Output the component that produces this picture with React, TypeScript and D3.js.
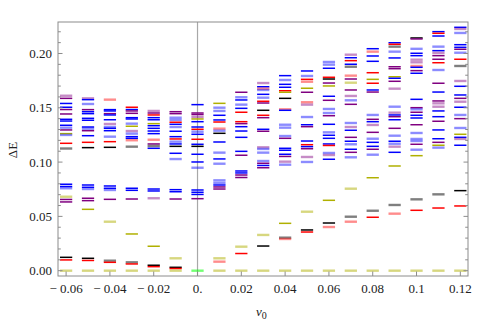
import React from "react";
import * as d3 from "d3";

// v0 values of the columns
const vValues = [-0.06, -0.05, -0.04, -0.03, -0.02, -0.01, 0, 0.01, 0.02, 0.03, 0.04, 0.05, 0.06, 0.07, 0.08, 0.09, 0.1, 0.11, 0.12];

type Lv = [number, string];
// energy levels per column: [ΔE, colour code]
const colM06: Lv[] = [[0.1611,"lp"],[0.1587,"p"],[0.1540,"b"],[0.1505,"b"],[0.1484,"p"],[0.1443,"p"],[0.1394,"b"],[0.1378,"b"],[0.1339,"b"],[0.1317,"lb"],[0.1296,"p"],[0.1262,"y"],[0.1250,"lb"],[0.1173,"r"],[0.1125,"g"],[0.0796,"b"],[0.0775,"b"],[0.0759,"lb"],[0.0681,"ly"],[0.0656,"p"],[0.0633,"p"],[0.0123,"k"],[0.0099,"r"],[0,"ly"]];
const colM05: Lv[] = [[0.1587,"lp"],[0.1575,"b"],[0.1535,"lb"],[0.1483,"p"],[0.1464,"b"],[0.1446,"b"],[0.1403,"b"],[0.1385,"b"],[0.1323,"b"],[0.1308,"lb"],[0.1289,"p"],[0.1243,"b"],[0.1182,"r"],[0.1133,"k"],[0.0789,"b"],[0.0768,"b"],[0.0752,"lb"],[0.0667,"p"],[0.0645,"p"],[0.0565,"y"],[0.0114,"k"],[0.0094,"r"],[0,"ly"]];
const colM04: Lv[] = [[0.1575,"lr"],[0.1483,"b"],[0.1471,"b"],[0.1446,"p"],[0.1434,"b"],[0.1390,"b"],[0.1351,"lp"],[0.1323,"lb"],[0.1311,"b"],[0.1289,"b"],[0.1234,"lb"],[0.1188,"r"],[0.1136,"k"],[0.0780,"b"],[0.0759,"b"],[0.0743,"lb"],[0.0657,"p"],[0.0451,"ly"],[0.0092,"g"],[0.0077,"r"],[0,"ly"]];
const colM03: Lv[] = [[0.1505,"r"],[0.1484,"b"],[0.1471,"p"],[0.1449,"p"],[0.1409,"b"],[0.1397,"b"],[0.1354,"lb"],[0.1330,"y"],[0.1286,"lp"],[0.1262,"lb"],[0.1234,"b"],[0.1219,"b"],[0.1201,"lr"],[0.1142,"g"],[0.0759,"b"],[0.0740,"b"],[0.0660,"p"],[0.0338,"y"],[0.0077,"g"],[0.0062,"r"],[0,"ly"]];
const colM02: Lv[] = [[0.1471,"lp"],[0.1452,"p"],[0.1434,"r"],[0.1409,"b"],[0.1390,"b"],[0.1354,"y"],[0.1335,"b"],[0.1311,"b"],[0.1286,"b"],[0.1262,"b"],[0.1206,"lr"],[0.1167,"p"],[0.1148,"g"],[0.1127,"b"],[0.0752,"b"],[0.0734,"b"],[0.0667,"lp"],[0.0225,"y"],[0.0050,"k"],[0.0037,"r"],[0,"ly"]];
const colM01: Lv[] = [[0.1464,"p"],[0.1446,"p"],[0.1409,"lb"],[0.1388,"lb"],[0.1367,"r"],[0.1348,"b"],[0.1323,"lb"],[0.1284,"b"],[0.1234,"b"],[0.1213,"r"],[0.1188,"lb"],[0.1167,"b"],[0.1145,"k"],[0.1081,"b"],[0.1028,"lb"],[0.0746,"b"],[0.0727,"b"],[0.0660,"p"],[0.0114,"ly"],[0.0031,"k"],[0.0020,"r"],[0,"ly"]];
const col000: Lv[] = [[0.1529,"b"],[0.1452,"p"],[0.1438,"p"],[0.1415,"lp"],[0.1397,"y"],[0.1372,"b"],[0.1323,"b"],[0.1302,"r"],[0.1280,"lb"],[0.1256,"b"],[0.1210,"r"],[0.1164,"b"],[0.1145,"k"],[0.1072,"b"],[0.1001,"b"],[0.0948,"lb"],[0.0743,"b"],[0.0722,"b"],[0.0702,"b"],[0.0663,"p"],[0,"gr"]];
const colP01: Lv[] = [[0.1541,"y"],[0.1501,"lb"],[0.1471,"lb"],[0.1431,"b"],[0.1388,"b"],[0.1369,"r"],[0.1308,"lr"],[0.1289,"lb"],[0.1265,"k"],[0.1185,"b"],[0.1087,"lb"],[0.1029,"b"],[0.0985,"lb"],[0.0832,"lb"],[0.0808,"lb"],[0.0789,"b"],[0.0771,"p"],[0.0752,"p"],[0.0114,"ly"],[0.0083,"lr"],[0,"ly"]];
const colP02: Lv[] = [[0.1643,"p"],[0.1597,"lb"],[0.1572,"b"],[0.1529,"lb"],[0.1495,"b"],[0.1459,"r"],[0.1372,"r"],[0.1354,"p"],[0.1326,"b"],[0.1286,"b"],[0.1228,"b"],[0.1099,"b"],[0.1063,"p"],[0.0918,"b"],[0.0900,"b"],[0.0881,"p"],[0.0858,"p"],[0.0221,"ly"],[0.0158,"r"],[0,"ly"]];
const colP03: Lv[] = [[0.1728,"lp"],[0.1694,"b"],[0.1676,"lr"],[0.1664,"lb"],[0.1624,"b"],[0.1593,"lb"],[0.1560,"r"],[0.1544,"p"],[0.1477,"k"],[0.1431,"r"],[0.1409,"p"],[0.1302,"b"],[0.1284,"p"],[0.1136,"lp"],[0.1121,"lb"],[0.1087,"lb"],[0.1010,"lb"],[0.0989,"p"],[0.0969,"b"],[0.0948,"p"],[0.0329,"ly"],[0.0227,"k"],[0,"ly"]];
const colP04: Lv[] = [[0.1796,"b"],[0.1756,"lb"],[0.1716,"b"],[0.1689,"b"],[0.1657,"r"],[0.1643,"y"],[0.1587,"k"],[0.1486,"lr"],[0.1477,"b"],[0.1344,"lb"],[0.1317,"lb"],[0.1240,"lb"],[0.1219,"p"],[0.1127,"b"],[0.1109,"b"],[0.1072,"b"],[0.1052,"p"],[0.1004,"lp"],[0.0976,"lb"],[0.0436,"y"],[0.0304,"g"],[0.0292,"lr"],[0,"ly"]];
const colP05: Lv[] = [[0.1839,"b"],[0.1793,"lb"],[0.1762,"r"],[0.1740,"lr"],[0.1680,"y"],[0.1643,"p"],[0.1551,"lr"],[0.1529,"lp"],[0.1415,"lb"],[0.1344,"b"],[0.1326,"p"],[0.1194,"b"],[0.1160,"r"],[0.1142,"b"],[0.1123,"p"],[0.1047,"lp"],[0.1001,"lb"],[0.0543,"ly"],[0.0375,"k"],[0.0356,"r"],[0,"ly"]];
const colP06: Lv[] = [[0.1922,"lb"],[0.1897,"lb"],[0.1864,"b"],[0.1781,"r"],[0.1765,"k"],[0.1728,"p"],[0.1701,"y"],[0.1606,"b"],[0.1569,"p"],[0.1489,"lb"],[0.1452,"lb"],[0.1427,"p"],[0.1348,"b"],[0.1274,"lb"],[0.1247,"b"],[0.1219,"b"],[0.1167,"b"],[0.1153,"r"],[0.1084,"lb"],[0.1065,"lp"],[0.1026,"b"],[0.0648,"y"],[0.0439,"k"],[0.0402,"lr"],[0,"ly"]];
const colP07: Lv[] = [[0.1989,"lp"],[0.1961,"b"],[0.1934,"r"],[0.1901,"b"],[0.1878,"g"],[0.1796,"lr"],[0.1765,"p"],[0.1731,"ly"],[0.1664,"p"],[0.1609,"lp"],[0.1569,"lb"],[0.1532,"p"],[0.1360,"lb"],[0.1323,"lp"],[0.1293,"b"],[0.1228,"p"],[0.1192,"b"],[0.1164,"lb"],[0.1118,"b"],[0.1090,"p"],[0.1044,"lb"],[0.0755,"ly"],[0.0497,"g"],[0.0451,"lr"],[0,"ly"]];
const colP08: Lv[] = [[0.2044,"b"],[0.2017,"lr"],[0.1977,"b"],[0.1928,"b"],[0.1823,"r"],[0.1762,"y"],[0.1726,"r"],[0.1664,"b"],[0.1645,"p"],[0.1434,"lb"],[0.1394,"p"],[0.1372,"b"],[0.1342,"lp"],[0.1274,"p"],[0.1215,"lb"],[0.1182,"b"],[0.1145,"b"],[0.1118,"p"],[0.1068,"lb"],[0.0856,"y"],[0.0552,"g"],[0.0492,"r"],[0,"ly"]];
const colP09: Lv[] = [[0.2099,"b"],[0.2085,"r"],[0.2063,"g"],[0.2017,"lb"],[0.1959,"b"],[0.1878,"p"],[0.1860,"p"],[0.1786,"y"],[0.1772,"b"],[0.1744,"p"],[0.1676,"lp"],[0.1510,"lb"],[0.1455,"lp"],[0.1434,"b"],[0.1418,"p"],[0.1390,"b"],[0.1311,"p"],[0.1243,"lb"],[0.1192,"b"],[0.1169,"lb"],[0.1142,"lp"],[0.1090,"b"],[0.0964,"y"],[0.0605,"g"],[0.0525,"lr"],[0,"ly"]];
const colP10: Lv[] = [[0.2143,"k"],[0.2134,"p"],[0.2043,"lb"],[0.2002,"b"],[0.1980,"b"],[0.1943,"lp"],[0.1919,"lp"],[0.1885,"lr"],[0.1873,"b"],[0.1842,"p"],[0.1818,"b"],[0.1578,"b"],[0.1501,"p"],[0.1486,"lb"],[0.1459,"p"],[0.1431,"b"],[0.1406,"b"],[0.1344,"p"],[0.1268,"lb"],[0.1213,"lb"],[0.1194,"lb"],[0.1164,"p"],[0.1114,"lb"],[0.1059,"y"],[0.0657,"g"],[0.0556,"r"],[0,"ly"]];
const colP11: Lv[] = [[0.2201,"b"],[0.2186,"r"],[0.2161,"b"],[0.2063,"lb"],[0.2026,"b"],[0.2005,"lp"],[0.1980,"p"],[0.1947,"p"],[0.1915,"r"],[0.1848,"lb"],[0.1726,"p"],[0.1645,"b"],[0.1563,"p"],[0.1541,"lp"],[0.1510,"lp"],[0.1471,"b"],[0.1418,"b"],[0.1376,"p"],[0.1296,"b"],[0.1215,"b"],[0.1182,"p"],[0.1155,"y"],[0.1133,"lb"],[0.0703,"g"],[0.0577,"r"],[0,"ly"]];
const colP12: Lv[] = [[0.2241,"b"],[0.2226,"lp"],[0.2189,"lb"],[0.2081,"b"],[0.2057,"b"],[0.2039,"p"],[0.2007,"lb"],[0.1947,"r"],[0.1885,"g"],[0.1747,"lp"],[0.1698,"b"],[0.1618,"b"],[0.1587,"p"],[0.1556,"lp"],[0.1505,"b"],[0.1434,"lb"],[0.1400,"p"],[0.1314,"lb"],[0.1256,"y"],[0.1228,"b"],[0.1213,"lp"],[0.1155,"b"],[0.0737,"k"],[0.0596,"r"],[0,"ly"]];

const columns = [colM06, colM05, colM04, colM03, colM02, colM01, col000, colP01, colP02, colP03, colP04, colP05, colP06, colP07, colP08, colP09, colP10, colP11, colP12];

const xTicks = [-0.06, -0.04, -0.02, 0, 0.02, 0.04, 0.06, 0.08, 0.1, 0.12];
const xTickLabels = ["\u2212 0.06", "\u2212 0.04", "\u2212 0.02", "0.", "0.02", "0.04", "0.06", "0.08", "0.1", "0.12"];
const yTicks = [0, 0.05, 0.1, 0.15, 0.2];
const yTickLabels = ["0.00", "0.05", "0.10", "0.15", "0.20"];
const yMinorTicks = d3.range(0, 23).map((i) => i * 0.01);

const colorMap: Record<string, [string, number]> = {
  b: ["#0000ff", 1],
  lb: ["#0000ff", 0.45],
  r: ["#ff0000", 1],
  lr: ["#ff0000", 0.45],
  k: ["#000000", 1],
  g: ["#000000", 0.5],
  p: ["#800080", 1],
  lp: ["#800080", 0.45],
  y: ["#b0b000", 1],
  ly: ["#b0b000", 0.5],
  gr: ["#00ff00", 0.55],
};

const W = 491, H = 320;
const L = 58, R = 468, T = 22, B = 276;
const HALF = 0.0028;

export default function App() {
  const x = d3.scaleLinear().domain([-0.0637, 0.1235]).range([L, R]);
  const y = d3.scaleLinear().domain([-0.0049, 0.229]).range([B, T]);
  const frame = "#8c8c8c";
  const font = "'Liberation Serif', 'Times New Roman', serif";
  return (
    <svg width={W} height={H} style={{ position: "absolute", left: 0, top: 0, background: "#fff" }}>
      <line x1={x(0)} x2={x(0)} y1={T} y2={B} stroke="#a8a8a8" strokeWidth={1.2} />
      {columns.map((col, ci) =>
        col.map(([v, c], li) => {
          const [color, op] = colorMap[c];
          const light = op < 1;
          return (
            <line
              key={`${ci}-${li}`}
              x1={x(vValues[ci] - HALF)}
              x2={x(vValues[ci] + HALF)}
              y1={y(v)}
              y2={y(v)}
              stroke={color}
              strokeOpacity={op}
              strokeWidth={light ? 2.4 : 1.5}
            />
          );
        })
      )}
      <rect x={L} y={T} width={R - L} height={B - T} fill="none" stroke={frame} strokeWidth={1} />
      {yMinorTicks.map((t, i) => {
        const major = Math.abs(t * 20 - Math.round(t * 20)) < 1e-6;
        const len = major ? 4.5 : 2.8;
        return (
          <g key={`yt${i}`}>
            <line x1={L} x2={L + len} y1={y(t)} y2={y(t)} stroke={frame} />
            <line x1={R} x2={R - len} y1={y(t)} y2={y(t)} stroke={frame} />
          </g>
        );
      })}
      {xTicks.map((t, i) => (
        <line key={`xt${i}`} x1={x(t)} x2={x(t)} y1={B} y2={B - 4.5} stroke={frame} />
      ))}
      {yTicks.map((t, i) => (
        <text key={`yl${i}`} x={52} y={y(t)} dy="0.35em" textAnchor="end" fontFamily={font} fontSize={13} fill="#222">
          {yTickLabels[i]}
        </text>
      ))}
      {xTicks.map((t, i) => (
        <text key={`xl${i}`} x={x(t)} y={293} textAnchor="middle" fontFamily={font} fontSize={13} fill="#222">
          {xTickLabels[i]}
        </text>
      ))}
      <text transform={`translate(17,150) rotate(-90)`} textAnchor="middle" fontFamily={font} fontSize={13} fill="#222">
        ΔE
      </text>
      <text x={256} y={316} fontFamily={font} fontSize={13} fill="#222">
        <tspan fontStyle="italic">v</tspan>
        <tspan fontSize={10} dy={3}>0</tspan>
      </text>
    </svg>
  );
}
